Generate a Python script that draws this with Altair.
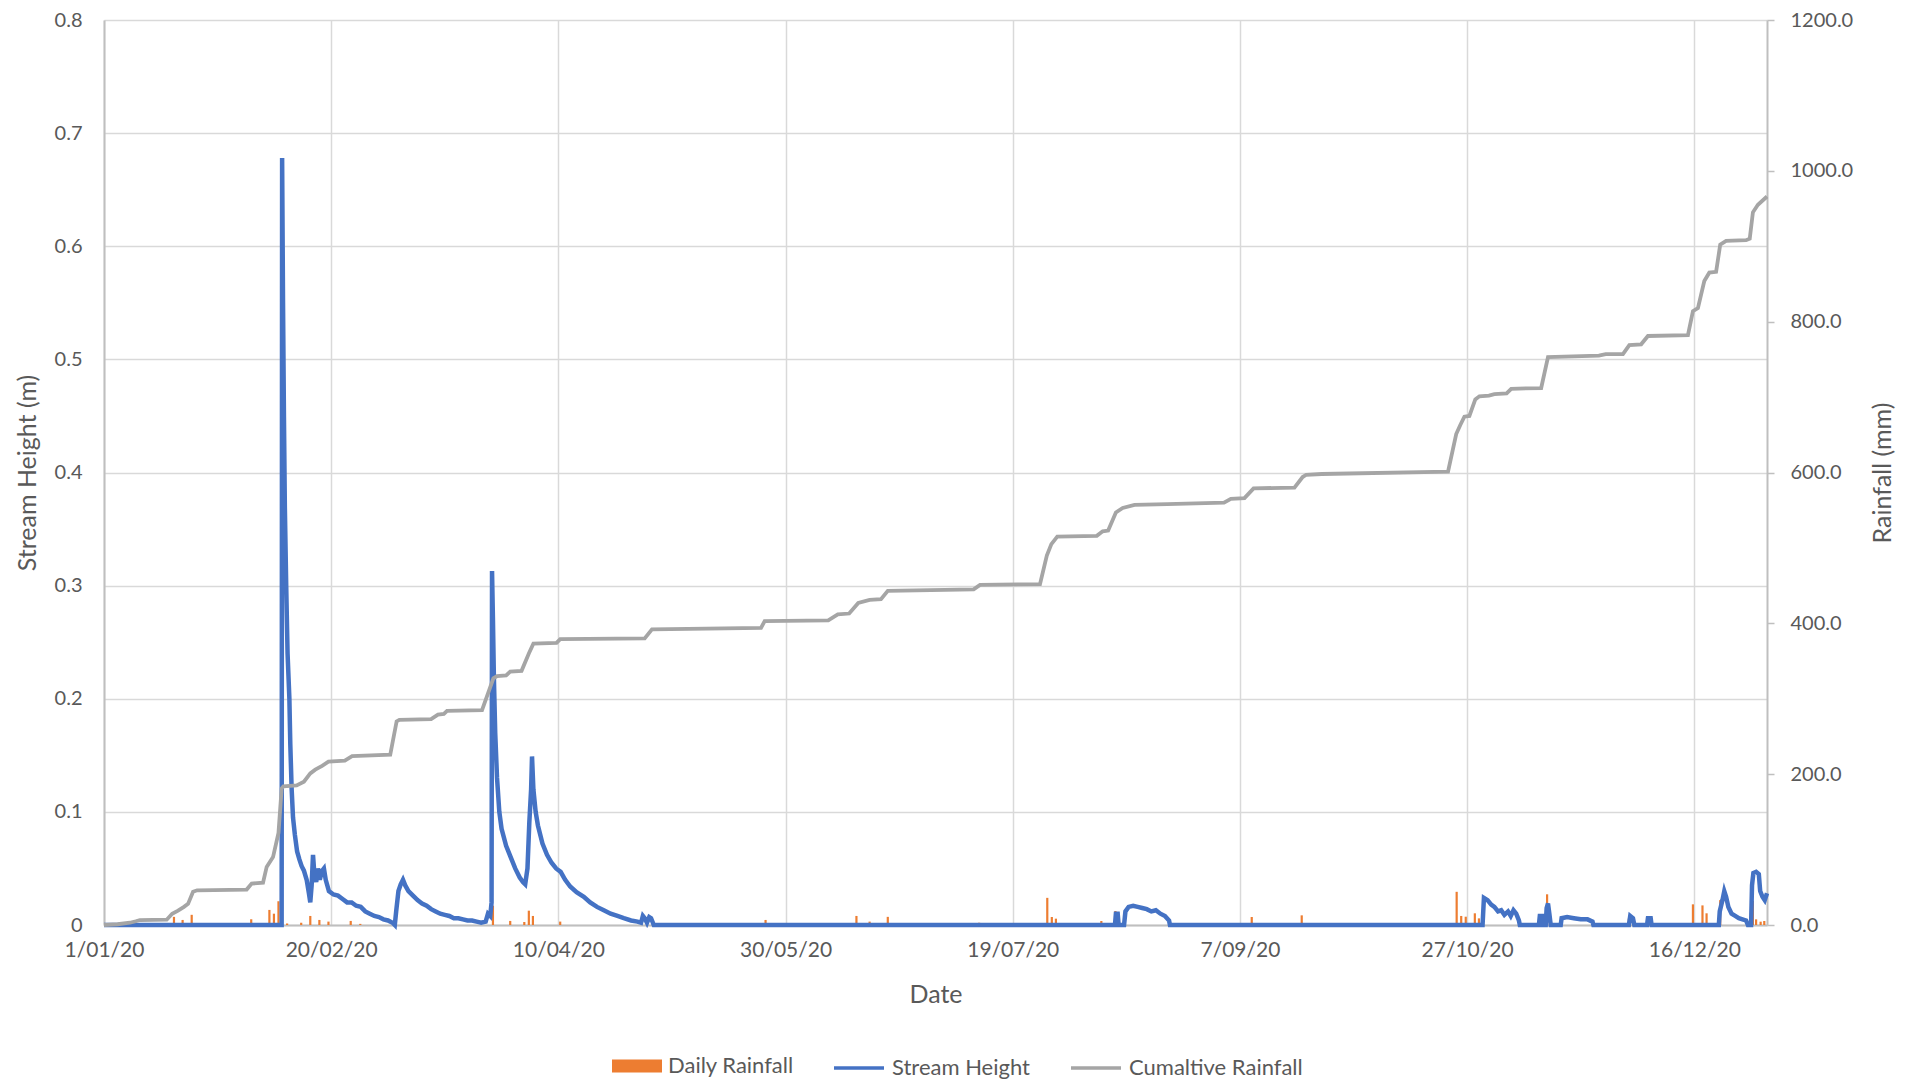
import altair as alt
import pandas as pd

# ---------------- data ----------------
# days after 1 Jan 2020
stream_points = [
    (0, 0.0), (39.1, 0.0), (39.2, 0.678), (39.4, 0.55), (39.6, 0.45), (39.8, 0.37),
    (40.1, 0.30), (40.4, 0.24), (40.7, 0.21), (40.8, 0.20), (41.0, 0.16), (41.3, 0.12),
    (41.6, 0.095), (42.0, 0.08), (42.5, 0.065), (43.0, 0.058), (43.5, 0.052), (44.0, 0.048),
    (44.6, 0.04), (45.1, 0.028), (45.4, 0.02), (45.7, 0.035), (46.0, 0.062), (46.3, 0.045),
    (46.7, 0.038), (47.1, 0.05), (47.5, 0.04), (48.0, 0.048), (48.4, 0.05), (48.8, 0.04),
    (49.5, 0.03), (50.5, 0.027), (51.5, 0.026), (52.5, 0.023), (53.5, 0.02), (54.5, 0.02),
    (55.5, 0.017), (56.5, 0.016), (57.5, 0.012), (58.5, 0.01), (59.5, 0.008), (60.5, 0.007),
    (61.5, 0.005), (62.5, 0.004), (63.5, 0.002), (64.0, 0.0), (64.3, 0.012), (64.8, 0.03),
    (65.3, 0.036), (65.8, 0.04), (66.3, 0.035), (67, 0.03), (68, 0.026), (69, 0.022),
    (70, 0.019), (71, 0.017), (72, 0.014), (73, 0.012), (74, 0.01), (75, 0.009), (76, 0.008),
    (77, 0.006), (78, 0.006), (79, 0.005), (80, 0.004), (81, 0.004), (82, 0.003), (83, 0.002),
    (84, 0.003), (84.5, 0.01), (85.0, 0.008), (85.3, 0.02), (85.4, 0.313), (85.6, 0.27),
    (85.8, 0.22), (86.1, 0.17), (86.5, 0.13), (87, 0.1), (87.5, 0.085), (88.5, 0.07),
    (89.5, 0.06), (90.5, 0.05), (91.5, 0.042), (92.2, 0.038), (92.7, 0.036), (93.2, 0.05),
    (93.6, 0.09), (94.0, 0.12), (94.2, 0.149), (94.5, 0.12), (95, 0.1), (95.5, 0.088),
    (96.5, 0.072), (97.5, 0.062), (98.5, 0.055), (99.5, 0.05), (100.5, 0.047), (101.5, 0.04),
    (102.6, 0.034), (104, 0.029), (105.6, 0.025), (107, 0.02), (108.5, 0.016), (110, 0.013),
    (111.5, 0.01), (113, 0.008), (114.4, 0.006), (116, 0.004), (117.4, 0.003), (118.2, 0.002),
    (118.6, 0.008), (119.0, 0.006), (119.5, 0.002), (120.0, 0.007), (120.4, 0.006), (121.0, 0.0),
    (222.5, 0.0), (222.7, 0.01), (223.1, 0.01), (223.3, 0.0), (224.5, 0.0), (224.8, 0.012),
    (225.5, 0.016), (226.5, 0.017), (227.5, 0.016), (228.5, 0.015), (229.5, 0.014),
    (230.5, 0.012), (231.5, 0.013), (232.5, 0.01), (233.5, 0.008), (234.4, 0.004), (234.6, 0.0),
    (303.4, 0.0), (303.7, 0.024), (304.5, 0.022), (305.3, 0.018), (306, 0.016), (306.8, 0.012),
    (307.5, 0.013), (308.2, 0.009), (309.0, 0.012), (309.6, 0.008), (310.2, 0.013),
    (310.8, 0.01), (311.4, 0.004), (311.6, 0.0), (315.8, 0.0), (316.0, 0.008), (316.5, 0.008),
    (316.7, 0.0), (317.3, 0.0), (317.5, 0.015), (317.8, 0.019), (318.1, 0.01), (318.4, 0.0),
    (320.6, 0.0), (320.8, 0.006), (322, 0.007), (323.5, 0.006), (325, 0.005), (326.5, 0.005),
    (327.6, 0.003), (327.8, 0.0), (335.6, 0.0), (335.9, 0.008), (336.5, 0.006), (336.8, 0.0),
    (339.6, 0.0), (339.8, 0.006), (340.4, 0.006), (340.6, 0.0), (355.4, 0.0), (355.6, 0.012),
    (356.2, 0.022), (356.6, 0.03), (357.0, 0.025), (357.5, 0.016), (358.2, 0.01), (359, 0.008),
    (359.8, 0.006), (360.6, 0.005), (361.4, 0.004), (361.8, 0.0), (362.5, 0.0), (362.7, 0.035),
    (363.0, 0.046), (363.6, 0.047), (364.2, 0.045), (364.5, 0.03), (365.0, 0.025),
    (365.5, 0.022), (366.0, 0.028),
]

cumulative_points = [
    (0, 0), (3, 1), (5.7, 3), (7.0, 5), (7.9, 6.6), (13.8, 7), (15.0, 15), (16.3, 19),
    (17.6, 24), (18.5, 28), (19.6, 44), (20.5, 46), (31.4, 47), (32.5, 55), (35.0, 56),
    (35.8, 77), (37.2, 90), (38.4, 122), (39.1, 181), (39.5, 184), (42.4, 185), (44.0, 190),
    (45.4, 201), (46.5, 206), (48.0, 211), (49.4, 216.5), (53.0, 218), (54.6, 224), (63.0, 226),
    (64.4, 270), (65, 272), (72, 273), (73.5, 279), (74.8, 280), (75.5, 284), (83.2, 285),
    (85.7, 327), (86.5, 330), (88.5, 331), (89.4, 336), (91.9, 337), (93.5, 360), (94.5, 373),
    (99.6, 374), (100.4, 379), (119, 380), (120.6, 392), (144.6, 394), (145.4, 403),
    (159.4, 404), (161.5, 412), (164, 413), (166, 427), (168.5, 431), (171, 432), (172.5, 443),
    (191.4, 445), (192.8, 451), (206, 452), (207.5, 490), (208.5, 505), (209.8, 515),
    (218.5, 516), (219.8, 522), (221, 523), (222.7, 547), (224.2, 553), (226.8, 557),
    (234, 558), (246.5, 560), (248, 565), (251, 566), (253, 579), (262, 580), (263.8, 594),
    (264.6, 597), (268, 598), (295.8, 601), (297.6, 651), (298.5, 663), (299.4, 674),
    (300.5, 675), (301.8, 697), (302.7, 701), (304.8, 702), (306, 704), (308.7, 705),
    (309.7, 711), (316.3, 712), (317.8, 753), (329, 755), (330.5, 757), (334.3, 757),
    (335.7, 769), (338.3, 770), (339.8, 781), (348.6, 782), (349.7, 814), (350.8, 818),
    (352.2, 854), (353.3, 865), (354.8, 866), (355.7, 902), (357, 907), (361.4, 908),
    (362.2, 910), (362.9, 945), (364, 955), (366, 966),
]

daily_points = [
    (15.4, 10.8), (17.3, 6.7), (19.3, 13.5), (32.4, 7.6), (36.4, 20), (37.4, 15), (38.4, 31.5),
    (40.3, 2), (43.4, 3), (45.4, 12), (47.4, 6.7), (49.4, 4.5), (54.3, 5.4), (56.4, 1.5),
    (85.6, 25.6), (89.4, 5.4), (92.5, 4), (93.5, 19), (94.4, 12), (100.4, 4.5), (145.6, 6.7),
    (160.5, 2), (161.7, 2), (165.6, 12), (168.5, 4.5), (172.5, 10.8), (192.6, 3), (206.6, 2.6),
    (207.6, 36), (208.6, 10.6), (209.5, 8.4), (219.5, 5.3), (220.9, 1.8), (222.6, 18.6),
    (247.5, 2.6), (252.6, 10.6), (253.5, 1.8), (263.6, 12.8), (264.7, 1.5), (297.7, 44),
    (298.7, 12), (299.7, 11), (301.7, 15.5), (302.6, 8.8), (317.6, 40.7), (335.6, 8.4),
    (339.6, 10.6), (348.7, 1.8), (349.7, 27.4), (351.8, 26), (352.7, 15.5), (353.7, 2.6),
    (355.7, 33), (362.9, 32), (363.6, 7.5), (364.6, 4.4), (365.4, 5.3),
]

series_names = ["Daily Rainfall", "Stream Height", "Cumaltive Rainfall"]
series_colors = ["#ED7D31", "#4472C4", "#A5A5A5"]

x_tick_dates = [(2020, 1, 1), (2020, 2, 20), (2020, 4, 10), (2020, 5, 30),
                (2020, 7, 19), (2020, 9, 7), (2020, 10, 27), (2020, 12, 16)]
left_ticks = [0, 0.1, 0.2, 0.3, 0.4, 0.5, 0.6, 0.7, 0.8]
right_ticks = [0, 200, 400, 600, 800, 1000, 1200]

# ---------------- tables ----------------
BASE = pd.Timestamp("2020-01-01")


def to_iso(d):
    return (BASE + pd.Timedelta(days=d)).isoformat()


stream_df = pd.DataFrame({"date": [to_iso(d) for d, _ in stream_points],
                          "value": [v for _, v in stream_points],
                          "series": series_names[1]})
cum_df = pd.DataFrame({"date": [to_iso(d) for d, _ in cumulative_points],
                       "value": [v for _, v in cumulative_points],
                       "series": series_names[2]})
daily_df = pd.DataFrame({"date": [to_iso(d) for d, _ in daily_points],
                         "value": [v for _, v in daily_points],
                         "series": series_names[0]})

FONT = "Lato"
TEXT = "#595959"
W, H = 1663, 905

x_domain = [alt.DateTime(year=2020, month=1, date=1), alt.DateTime(year=2021, month=1, date=1)]
x_values = [alt.DateTime(year=y, month=m, date=d) for y, m, d in x_tick_dates]
x_scale = alt.Scale(domain=x_domain, padding=0)

x_enc = alt.X(
    "date:T",
    scale=x_scale,
    axis=alt.Axis(values=x_values, format="%-d/%m/%y", title="Date", grid=True,
                  ticks=False, tickSize=0, labelPadding=14, labelAngle=0, labelFontSize=21,
                  titleX=W / 2, titleY=69, titleBaseline="middle", titleAlign="center",
                  labelFlush=False, labelOverlap=False),
)
x_plain = alt.X("date:T", scale=x_scale)

rect_path = "M-1,-0.26L1,-0.26L1,0.26L-1,0.26Z"

legend_common = dict(title=None, orient="none", direction="horizontal", legendY=1021,
                     labelFont=FONT, labelFontSize=22, labelColor=TEXT, symbolSize=2500,
                     labelOffset=6, padding=0, labelLimit=0)

fill_legend = alt.Legend(legendX=508, symbolType=rect_path, symbolStrokeWidth=0,
                         symbolOpacity=1, columnPadding=40, **legend_common)
stroke_legend = alt.Legend(legendX=728, symbolType="stroke", symbolStrokeWidth=3.5,
                           symbolOpacity=1, columnPadding=34, **legend_common)

fill_scale = alt.Scale(domain=series_names[:1], range=series_colors[:1])
stroke_scale = alt.Scale(domain=series_names[1:], range=series_colors[1:])

bars = alt.Chart(daily_df).mark_bar(size=2.2, color=series_colors[0]).encode(
    x=x_enc,
    y=alt.Y("value:Q", scale=alt.Scale(domain=[0, 1200]), axis=None),
    fill=alt.Fill("series:N", scale=fill_scale, legend=fill_legend),
)

stream = alt.Chart(stream_df).mark_line(strokeWidth=4.5, strokeJoin="miter").encode(
    x=x_plain,
    y=alt.Y("value:Q", scale=alt.Scale(domain=[0, 0.8]),
            axis=alt.Axis(orient="left", values=left_ticks, title="Stream Height (m)",
                          labelExpr="datum.value == 0 ? '0' : format(datum.value, '.1f')",
                          grid=True, ticks=False, tickSize=0, labelPadding=22,
                          titleAngle=270, titleX=-77, titleY=H / 2,
                          titleBaseline="middle", titleAlign="center")),
    stroke=alt.Stroke("series:N", scale=stroke_scale, legend=stroke_legend),
)

cumulative = alt.Chart(cum_df).mark_line(strokeWidth=3.8).encode(
    x=x_plain,
    y=alt.Y("value:Q", scale=alt.Scale(domain=[0, 1200]),
            axis=alt.Axis(orient="right", values=right_ticks, format=".1f",
                          title="Rainfall (mm)", grid=False, ticks=True, tickSize=7,
                          tickColor="#BFBFBF", tickWidth=1.5, labelPadding=16,
                          titleAngle=270, titleX=115, titleY=H / 2,
                          titleBaseline="middle", titleAlign="center")),
    stroke=alt.Stroke("series:N", scale=stroke_scale, legend=stroke_legend),
)

chart = alt.layer(bars, stream, cumulative).resolve_scale(
    y="independent"
).properties(
    width=W, height=H,
    padding={"left": 96, "top": 12, "right": 141, "bottom": 156},
    autosize=alt.AutoSizeParams(type="none"),
).configure_view(stroke=None).configure_axis(
    labelFont=FONT, labelFontSize=20, labelColor=TEXT,
    titleFont=FONT, titleFontSize=25, titleColor=TEXT, titleFontWeight="normal",
    gridColor="#D9D9D9", gridWidth=1.5, domainColor="#BFBFBF", domainWidth=2,
)

chart.save("out.html", embed_options={"renderer": "svg", "actions": False})
